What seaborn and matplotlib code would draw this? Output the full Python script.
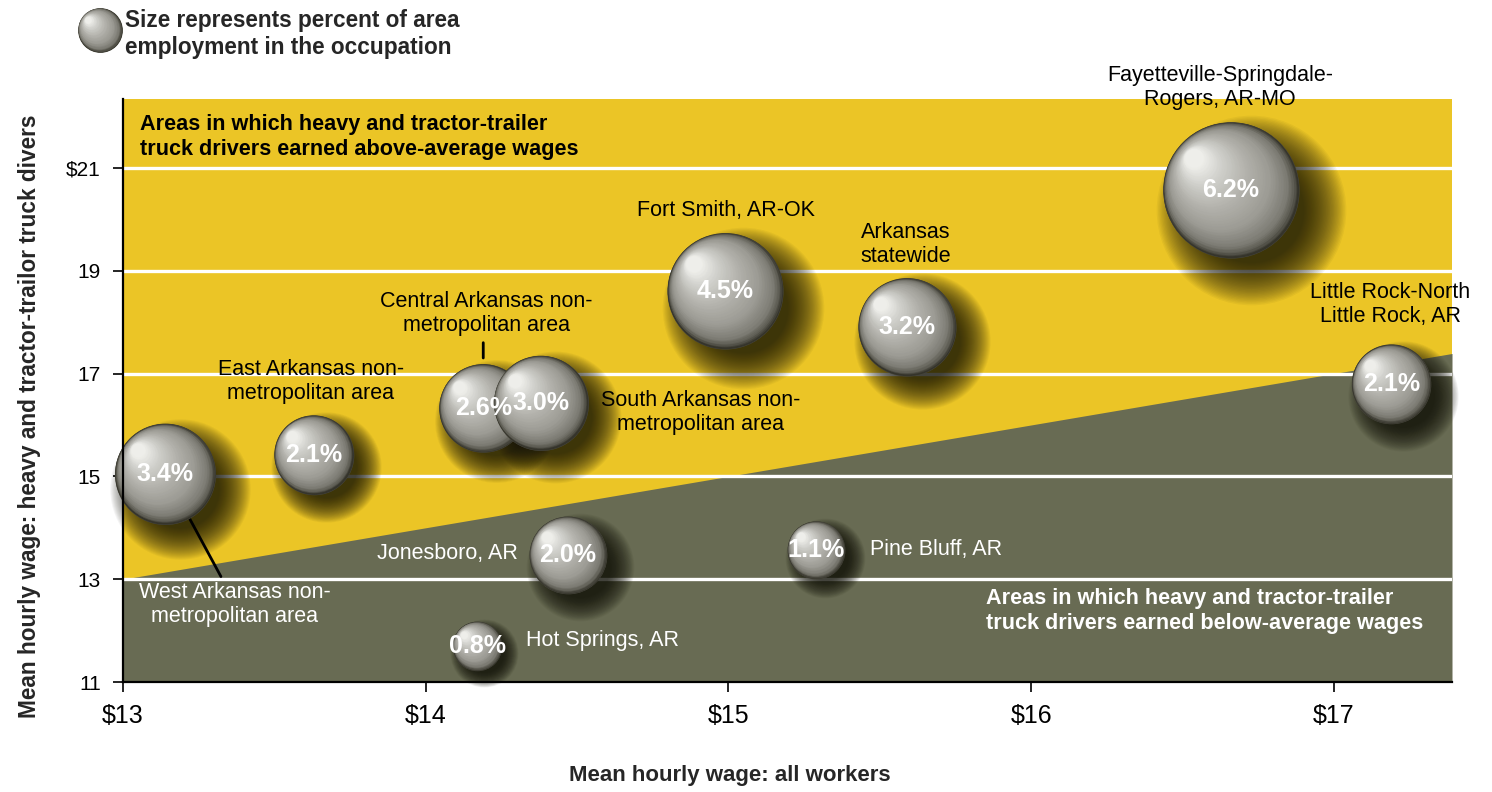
import numpy as np
import pandas as pd
import matplotlib
matplotlib.use("Agg")
import matplotlib.pyplot as plt
import matplotlib.transforms as mtransforms
from matplotlib.colors import LinearSegmentedColormap
import seaborn as sns
from matplotlib import font_manager

# ---- data -------------------------------------------------------------
areas = [
    "West Arkansas non-\nmetropolitan area",
    "East Arkansas non-\nmetropolitan area",
    "Central Arkansas non-\nmetropolitan area",
    "South Arkansas non-\nmetropolitan area",
    "Fort Smith, AR-OK",
    "Arkansas\nstatewide",
    "Fayetteville-Springdale-\nRogers, AR-MO",
    "Little Rock-North\nLittle Rock, AR",
    "Jonesboro, AR",
    "Pine Bluff, AR",
    "Hot Springs, AR",
]
wage_all_workers = [13.14, 13.63, 14.19, 14.38, 14.99, 15.59, 16.66, 17.19, 14.47, 15.29, 14.17]
wage_truck_drivers = [15.05, 15.42, 16.33, 16.43, 18.61, 17.91, 20.57, 16.80, 13.47, 13.57, 11.70]
employment_share = [3.4, 2.1, 2.6, 3.0, 4.5, 3.2, 6.2, 2.1, 2.0, 1.1, 0.8]

x_ticks = [13, 14, 15, 16, 17]
x_tick_labels = ["$13", "$14", "$15", "$16", "$17"]
y_ticks = [11, 13, 15, 17, 19, 21]
y_tick_labels = ["11", "13", "15", "17", "19", "$21"]

# ---- label placement (offset in points from bubble centre, alignment, colour)
label_layout = [
    ((50, -94), "center", "white"),
    ((-2, 53), "center", "black"),
    ((2, 68), "center", "black"),
    ((115, -7), "center", "black"),
    ((0, 58), "center", "black"),
    ((-1, 59), "center", "black"),
    ((-8, 74), "center", "black"),
    ((-1, 57), "center", "black"),
    ((-36, 1), "right", "white"),
    ((39, 0), "left", "white"),
    ((35, 4), "left", "white"),
]

# ---- style ------------------------------------------------------------
sns.set_style("white")
available = {f.name for f in font_manager.fontManager.ttflist}
narrow = "Liberation Sans Narrow" if "Liberation Sans Narrow" in available else "Liberation Sans"
plt.rcParams["font.family"] = [narrow, "DejaVu Sans"]

YELLOW = "#ebc526"
OLIVE = "#686b53"
sphere_cmap = LinearSegmentedColormap.from_list(
    "sphere",
    [(0.0, "#35342b"), (0.04, "#5a5950"), (0.12, "#7d7c74"), (0.3, "#9c9b94"),
     (0.55, "#b3b2ac"), (0.8, "#cfcfca"), (1.0, "#eeeeea")],
)

W, H = 1492, 792
fig = plt.figure(figsize=(W / 100, H / 100), dpi=100)
ax = fig.add_axes([123 / W, 110 / H, (1452 - 123) / W, (682 - 99) / H])
ax.set_xlim(13, 17.39)
ax.set_ylim(11, 22.34)
ax.set_facecolor(YELLOW)

# wage parity line: drivers earning the same as all workers
parity = np.array(ax.get_xlim())
ax.fill_between(parity, ax.get_ylim()[0], parity, color=OLIVE, lw=0, zorder=0.5)
for yv in y_ticks[1:]:
    ax.axhline(yv, color="white", lw=2.4, zorder=1)

df = pd.DataFrame({"area": areas, "all": wage_all_workers,
                   "drivers": wage_truck_drivers, "share": employment_share})

S_MAX = 1534 * 6.2
sns.scatterplot(data=df, x="all", y="drivers", size="share", sizes=(0, S_MAX),
                size_norm=(0, 6.2), color="#35342b", linewidth=0, legend=False,
                ax=ax, zorder=3, clip_on=False)
sizes = ax.collections[-1].get_sizes()


def shifted(base, dx_pt, dy_pt):
    return base + mtransforms.ScaledTranslation(dx_pt / 72, dy_pt / 72, fig.dpi_scale_trans)


def draw_shadow(x, y, s, base, z):
    r = np.sqrt(s) / 2
    n = 32
    for k in range(n):
        f = 1.4 - 0.62 * k / (n - 1)
        ax.scatter([x], [y], s=s * f * f, color="#111108", alpha=0.042, linewidths=0,
                   transform=shifted(base, 0.3 * r, -0.3 * r), zorder=z, clip_on=False)


def draw_sphere(x, y, s, base, z):
    r = np.sqrt(s) / 2
    ax.scatter([x], [y], s=(2 * r + 0.5) ** 2, color="#4a493f", linewidths=0,
               transform=base, zorder=z, clip_on=False)
    n = 60
    for k in range(n):
        t = k / (n - 1)
        rk = r * (1 - 0.86 * t)
        off = 0.84 * (r - rk)
        ax.scatter([x], [y], s=(2 * rk) ** 2, color=sphere_cmap(t), linewidths=0,
                   transform=shifted(base, -off * 0.76, off * 0.65),
                   zorder=z + (k + 1) * 1e-4, clip_on=False)


for i, (x, y, s) in enumerate(zip(df["all"], df["drivers"], sizes)):
    draw_shadow(x, y, s, ax.transData, 2)
for i, (x, y, s) in enumerate(zip(df["all"], df["drivers"], sizes)):
    draw_sphere(x, y, s, ax.transData, 3 + i * 0.01)

# values inside the bubbles and area names beside them
for i, row in df.iterrows():
    ax.annotate(f"{row['share']:.1f}%", (row["all"], row["drivers"]), ha="center",
                va="center", color="white", fontsize=18, fontweight="bold", zorder=6)
    (dx, dy), ha, col = label_layout[i]
    ax.annotate(row["area"], (row["all"], row["drivers"]), xytext=(dx, dy),
                textcoords="offset points", ha=ha, va="center", multialignment="center",
                color=col, fontsize=15.5, linespacing=1.2, zorder=6)

# leader lines
west = df.iloc[0]
ax.annotate("", (west["all"], west["drivers"]), xytext=(40, -74), textcoords="offset points",
            arrowprops=dict(arrowstyle="-", color="black", lw=2, shrinkA=0, shrinkB=0), zorder=2.5)
central = df.iloc[2]
ax.annotate("", (central["all"], central["drivers"]), xytext=(0, 47), textcoords="offset points",
            arrowprops=dict(arrowstyle="-", color="black", lw=2, shrinkA=0, shrinkB=36), zorder=2.5)

# region captions
ax.text(0.013, 0.975, "Areas in which heavy and tractor-trailer\ntruck drivers earned above-average wages",
        transform=ax.transAxes, ha="left", va="top", fontsize=15.6, fontweight="bold",
        color="black", linespacing=1.25, zorder=6)
ax.text(0.978, 0.122, "Areas in which heavy and tractor-trailer\ntruck drivers earned below-average wages",
        transform=ax.transAxes, ha="right", va="center", fontsize=15.6, fontweight="bold",
        color="white", linespacing=1.25, multialignment="left", zorder=6)

# axes
ax.set_xticks(x_ticks, x_tick_labels)
ax.set_yticks(y_ticks, y_tick_labels)
ax.tick_params(axis="both", direction="out", length=7, width=1.2, color="black",
               labelcolor="black")
ax.tick_params(axis="x", pad=9, bottom=True, labelsize=18)
ax.tick_params(axis="y", pad=9, left=True, labelsize=15)
for side in ("top", "right"):
    ax.spines[side].set_visible(False)
for side in ("left", "bottom"):
    ax.spines[side].set_color("black")
    ax.spines[side].set_linewidth(1.6)
    ax.spines[side].set_zorder(7)
ax.set_xlabel("")
ax.set_ylabel("")

fig.text(730 / W, 1 - 775 / H, "Mean hourly wage: all workers", ha="center", va="center",
         fontsize=16, fontweight="bold")
fig.text(30 / W, 1 - 416 / H, "Mean hourly wage: heavy and tractor-trailor truck divers",
         rotation=90, ha="center", va="center", fontsize=16.3, fontweight="bold")

# size key
key_s = (44 * 0.72) ** 2
draw_sphere(100 / W, 1 - 30 / H, key_s, fig.transFigure, 8)
fig.text(125 / W, 1 - 34 / H, "Size represents percent of area\nemployment in the occupation",
         ha="left", va="center", fontsize=16.3, fontweight="bold", linespacing=1.2)

fig.savefig("out.png", dpi=100)
